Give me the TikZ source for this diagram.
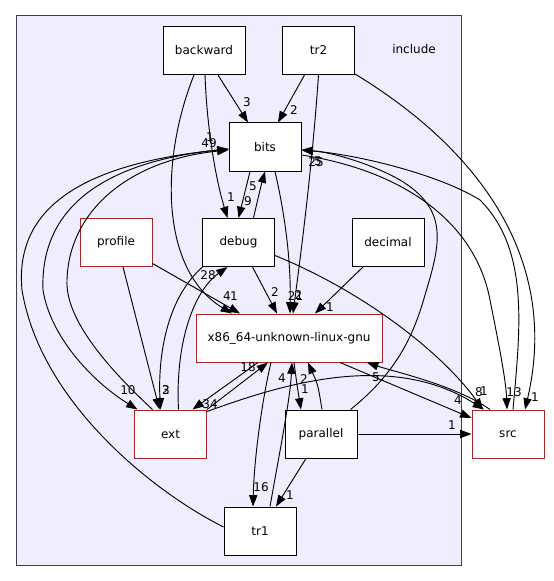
\documentclass[tikz,border=0pt]{standalone}
\usepackage{fontspec}
\setmainfont{DejaVu Sans}
\usetikzlibrary{calc,arrows.meta}
\definecolor{clusterbg}{HTML}{EEEEFF}
\definecolor{clusterline}{HTML}{404040}
\tikzset{
  dirbox/.style={draw=black, fill=white, line width=0.75pt, minimum width=54pt, minimum height=36pt, inner sep=0pt, font=\fontsize{9}{11}\selectfont},
  dirred/.style={dirbox, draw=red},
  dep/.style={-{Triangle[length=8.5pt,width=6.2pt]}, line width=0.7pt},
  lbl/.style={font=\fontsize{9}{11}\selectfont, inner sep=0pt},
}

\begin{document}
\begin{tikzpicture}[x=0.75pt,y=-0.75pt]
			%%%%% START %%%%%
			\useasboundingbox (0,0) rectangle (553,581);
			\draw[fill=clusterbg, draw=clusterline, line width=0.75pt] (16,16) rectangle (461,565);
			\node[lbl] (inclabel) at (414,49) {include};
			
			\node[dirbox, minimum width=61.5pt] (backward) at (204,50.5) {backward};
			\node[dirbox] (tr2) at (318.5,50.5) {tr2};
			\node[dirbox] (bits) at (265,147) {bits};
			\node[dirred] (profile) at (116,242.5) {profile};
			\node[dirbox] (debug) at (238.5,242.5) {debug};
			\node[dirbox] (decimal) at (388,242.5) {decimal};
			\node[dirred, minimum width=139.5pt] (x86) at (289,338) {x86\_64-unknown-linux-gnu};
			\node[dirred] (ext) at (170.5,434) {ext};
			\node[dirbox] (parallel) at (321,434) {parallel};
			\node[dirred] (src) at (508,434) {src};
			\node[dirbox] (tr1) at (260,531) {tr1};
			
			% backward
			\draw[dep] ($(backward.south)+(14,0)$) -- ($(bits.north)+(-17,0)$) node[lbl] (l-bw-bits) at (247,102) {3};
			\draw[dep] ($(backward.south)+(1,0)$) .. controls (207,130) and (216,180) .. ($(debug.north)+(-11,0)$) node[lbl] (l-bw-debug) at (231,197) {1};
			\draw[dep] ($(backward.south)+(-10,0)$) .. controls (160,160) and (160,270) .. ($(x86.north)+(-57,0)$) node[lbl] (l-bw-x86) at (227,296) {4};
			
			% tr2
			\draw[dep] ($(tr2.south)+(-14,0)$) -- ($(bits.north)+(13,0)$) node[lbl] (l-tr2-bits) at (294,110) {2};
			\draw[dep] (tr2.south) .. controls (312,170) and (300,260) .. ($(x86.north)+(4,0)$) node[lbl] (l-tr2-x86) at (298.5,295) {2};
			\draw[dep] ($(tr2.south east)+(0,-1)$) .. controls (480,150) and (560,260) .. ($(src.north)+(17,0)$) node[lbl] (l-tr2-src) at (535,397) {1};
			
			% bits
			\draw[dep] ($(bits.south)+(-15,0)$) -- (debug.north) node[lbl] (l-bits-debug) at (248,201) {9};
			\draw[dep] ($(bits.south)+(10,0)$) .. controls (285,215) and (291,260) .. ($(x86.north)+(1,0)$) node[lbl] (l-bits-x86) at (295.5,296) {21};
			\draw[dep] ($(bits.west)+(0,2)$) .. controls (100,160) and (40,210) .. (43,290) .. controls (50,335) and (90,380) .. ($(ext.north)+(-33,0)$) node[lbl] (l-bits-ext) at (128,390) {10};
			\draw[dep] ($(bits.east)+(0,8)$) .. controls (400,170) and (475,220) .. (490,300) .. controls (498,340) and (506,380) .. ($(src.north)+(-1,0)$) node[lbl] (l-bits-src) at (514,392) {13};
			
			% debug
			\draw[dep] ($(debug.north)+(15,0)$) .. controls (258,198) and (262,182) .. (bits.south) node[lbl] (l-debug-bits) at (253,186) {5};
			\draw[dep] ($(debug.south)+(14,0)$) -- ($(x86.north)+(-12,0)$) node[lbl] (l-debug-x86) at (275,292) {2};
			\draw[dep] ($(debug.south west)+(0.5,0)$) .. controls (165,300) and (158,360) .. ($(ext.north)+(-10,0)$) node[lbl] (l-debug-ext) at (166,390) {3};
			\draw[dep] ($(debug.east)+(0,13)$) .. controls (360,290) and (440,350) .. ($(src.north)+(-25,0)$) node[lbl] (l-debug-src) at (484,391) {1};
			
			% profile, decimal
			\draw[dep] ($(profile.east)+(0,21)$) -- ($(x86.north)+(-49,0)$) node[lbl] (l-prof-x86) at (234,296) {1};
			\draw[dep] ($(profile.south)+(7,0)$) -- ($(ext.north)+(-11,0)$) node[lbl] (l-prof-ext) at (166,390) {2};
			\draw[dep] ($(decimal.south)+(-25,0)$) -- ($(x86.north)+(26,0)$) node[lbl] (l-dec-x86) at (330,307) {1};
			
			% ext
			\draw[dep] ($(ext.north)+(-18,0)$) .. controls (110,370) and (65,320) .. (67,280) .. controls (69,210) and (130,160) .. ($(bits.west)+(0,3)$) node[lbl] (l-ext-bits) at (209,143) {49};
			\draw[dep] ($(ext.north)+(8,0)$) .. controls (175,340) and (195,290) .. ($(debug.south)+(-11,0)$) node[lbl] (l-ext-debug) at (208,275) {28};
			\draw[dep] (ext.north east) -- ($(x86.south)+(-21,0)$) node[lbl] (l-ext-x86) at (248,367) {18};
			\draw[dep] ($(ext.north east)+(0,2)$) .. controls (280,385) and (390,350) .. ($(src.north)+(-24,0)$) node[lbl] (l-ext-src) at (479,392) {8};
			
			% x86_64-unknown-linux-gnu
			\draw[dep] ($(x86.south)+(-31,0)$) -- ($(ext.north)+(22,0)$) node[lbl] (l-x86-ext) at (210,404) {34};
			\draw[dep] ($(x86.south)+(51,0)$) -- ($(src.west)+(0,-16)$) node[lbl] (l-x86-src) at (458,400) {4};
			\draw[dep] ($(x86.south)+(5,0)$) .. controls (297,385) .. ($(parallel.north)+(-20,0)$) node[lbl] (l-x86-par) at (305,389) {1};
			\draw[dep] ($(x86.south)+(-18,0)$) .. controls (262,400) and (254,460) .. ($(tr1.north)+(-7,0)$) node[lbl] (l-x86-tr1) at (261,487) {16};
			
			% parallel
			\draw[dep] ($(parallel.north)+(1,0)$) .. controls (318,385) .. ($(x86.south)+(19,0)$) node[lbl] (l-par-x86) at (304,379) {2};
			\draw[dep] ($(parallel.north east)+(-7,0)$) .. controls (400,370) and (415,330) .. (425,295) .. controls (440,245) and (450,210) .. (400,180) .. controls (370,163) and (330,152) .. ($(bits.east)+(0,3)$) node[lbl] (l-par-bits) at (318,161) {5};
			\draw[dep] (parallel.east) -- (src.west) node[lbl] (l-par-src) at (452,425) {1};
			\draw[dep] ($(parallel.south)+(-15,0)$) -- ($(tr1.north)+(16,0)$) node[lbl] (l-par-tr1) at (290,495) {1};
			
			% src
			\draw[dep] ($(src.north)+(-18,0)$) .. controls (455,385) and (395,372) .. ($(x86.south)+(78,0)$) node[lbl] (l-src-x86) at (376,377) {5};
			\draw[dep] ($(src.north)+(5,0)$) .. controls (520,330) and (530,250) .. (480,200) .. controls (440,175) and (360,155) .. ($(bits.east)+(0,3)$) node[lbl] (l-src-bits) at (316,162) {25};
			
			% tr1
			\draw[dep] ($(tr1.west)+(0,-4)$) .. controls (150,490) and (40,400) .. (22,290) .. controls (15,215) and (70,165) .. ($(bits.west)+(0,2)$) node[lbl] (l-tr1-bits) at (210,137) {1};
			\draw[dep] ($(tr1.north)+(10,0)$) .. controls (280,450) and (290,400) .. ($(x86.south)+(3,0)$) node[lbl] (l-tr1-x86) at (282,378) {4};
			%%%%% END %%%%%
\end{tikzpicture}
\end{document}
